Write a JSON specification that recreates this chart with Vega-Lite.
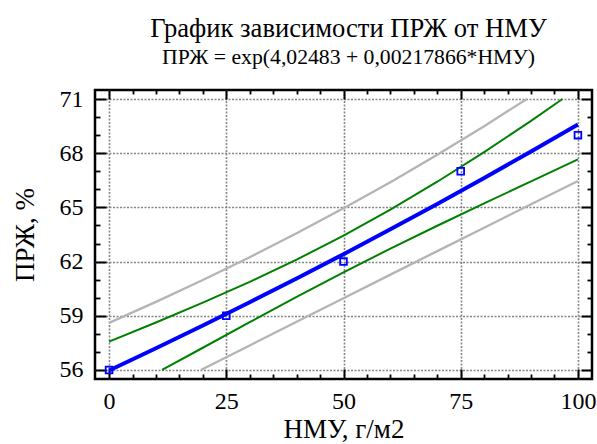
{
  "$schema": "https://vega.github.io/schema/vega-lite/v6.json",
  "width": 497,
  "height": 289,
  "autosize": {"type": "none"},
  "padding": {"left": 95, "top": 90, "right": 5, "bottom": 65},
  "background": "white",
  "title": {
    "text": "График зависимости ПРЖ от НМУ",
    "subtitle": "ПРЖ = exp(4,02483 + 0,00217866*НМУ)",
    "font": "Liberation Serif",
    "fontSize": 26.6,
    "fontWeight": "normal",
    "color": "black",
    "subtitleFont": "Liberation Serif",
    "subtitleFontSize": 21.7,
    "subtitleColor": "black",
    "anchor": "middle",
    "frame": "group",
    "offset": 18.5,
    "subtitlePadding": 4.5,
    "dx": 5
  },
  "config": {
    "view": {"stroke": "black", "strokeWidth": 2.5},
    "axis": {
      "domain": false,
      "labelFont": "Liberation Serif",
      "titleFont": "Liberation Serif",
      "labelColor": "black",
      "titleColor": "black",
      "titleFontWeight": "normal",
      "labelFontSize": 24,
      "titleFontSize": 27,
      "tickColor": "black"
    }
  },
  "datasets": {
    "lines": [
      {"series": "fit", "x": 0, "y": 55.971},
      {"series": "fit", "x": 10, "y": 57.204},
      {"series": "fit", "x": 20, "y": 58.464},
      {"series": "fit", "x": 30, "y": 59.751},
      {"series": "fit", "x": 40, "y": 61.067},
      {"series": "fit", "x": 50, "y": 62.412},
      {"series": "fit", "x": 60, "y": 63.787},
      {"series": "fit", "x": 70, "y": 65.192},
      {"series": "fit", "x": 80, "y": 66.628},
      {"series": "fit", "x": 90, "y": 68.095},
      {"series": "fit", "x": 100, "y": 69.595},
      {"series": "ci_upper", "x": 0, "y": 57.571},
      {"series": "ci_upper", "x": 10, "y": 58.627},
      {"series": "ci_upper", "x": 20, "y": 59.725},
      {"series": "ci_upper", "x": 30, "y": 60.878},
      {"series": "ci_upper", "x": 40, "y": 62.108},
      {"series": "ci_upper", "x": 50, "y": 63.436},
      {"series": "ci_upper", "x": 60, "y": 64.875},
      {"series": "ci_upper", "x": 70, "y": 66.422},
      {"series": "ci_upper", "x": 80, "y": 68.065},
      {"series": "ci_upper", "x": 90, "y": 69.789},
      {"series": "ci_upper", "x": 96.7, "y": 71},
      {"series": "ci_lower", "x": 11.3, "y": 56},
      {"series": "ci_lower", "x": 20, "y": 57.23},
      {"series": "ci_lower", "x": 30, "y": 58.645},
      {"series": "ci_lower", "x": 40, "y": 60.043},
      {"series": "ci_lower", "x": 50, "y": 61.405},
      {"series": "ci_lower", "x": 60, "y": 62.718},
      {"series": "ci_lower", "x": 70, "y": 63.985},
      {"series": "ci_lower", "x": 80, "y": 65.221},
      {"series": "ci_lower", "x": 90, "y": 66.442},
      {"series": "ci_lower", "x": 100, "y": 67.661},
      {"series": "pi_upper", "x": 0, "y": 58.607},
      {"series": "pi_upper", "x": 10, "y": 59.771},
      {"series": "pi_upper", "x": 20, "y": 60.982},
      {"series": "pi_upper", "x": 30, "y": 62.245},
      {"series": "pi_upper", "x": 40, "y": 63.567},
      {"series": "pi_upper", "x": 50, "y": 64.949},
      {"series": "pi_upper", "x": 60, "y": 66.398},
      {"series": "pi_upper", "x": 70, "y": 67.914},
      {"series": "pi_upper", "x": 80, "y": 69.498},
      {"series": "pi_upper", "x": 89.1, "y": 71},
      {"series": "pi_lower", "x": 19.6, "y": 56},
      {"series": "pi_lower", "x": 20, "y": 56.05},
      {"series": "pi_lower", "x": 30, "y": 57.356},
      {"series": "pi_lower", "x": 40, "y": 58.666},
      {"series": "pi_lower", "x": 50, "y": 59.974},
      {"series": "pi_lower", "x": 60, "y": 61.279},
      {"series": "pi_lower", "x": 70, "y": 62.579},
      {"series": "pi_lower", "x": 80, "y": 63.876},
      {"series": "pi_lower", "x": 90, "y": 65.17},
      {"series": "pi_lower", "x": 100, "y": 66.465}
    ],
    "points": [
      {"x": 0, "y": 56},
      {"x": 25, "y": 59},
      {"x": 50, "y": 62},
      {"x": 75, "y": 67},
      {"x": 100, "y": 69}
    ]
  },
  "resolve": {"axis": {"x": "independent", "y": "independent"}},
  "layer": [
    {
      "data": {"name": "lines"},
      "transform": [{"filter": "datum.series === 'pi_upper'"}],
      "mark": {"type": "line", "color": "#b4b4b4", "strokeWidth": 2.3, "clip": true},
      "encoding": {
        "x": {"field": "x", "type": "quantitative",
              "scale": {"domain": [-3, 103], "nice": false, "zero": false},
              "axis": {"orient": "bottom", "values": [0, 25, 50, 75, 100], "ticks": false, "grid": true,
                       "gridColor": "#858585", "gridDash": [2, 1.5], "gridWidth": 1.6,
                       "labelPadding": 10.5, "title": "НМУ, г/м2", "titlePadding": 3}},
        "y": {"field": "y", "type": "quantitative",
              "scale": {"domain": [55.5, 71.5], "nice": false, "zero": false},
              "axis": {"orient": "left", "values": [56, 59, 62, 65, 68, 71], "ticks": false, "grid": true,
                       "gridColor": "#858585", "gridDash": [2, 1.5], "gridWidth": 1.6,
                       "labelPadding": 12, "title": "ПРЖ, %", "titlePadding": 20}}
      }
    },
    {
      "data": {"name": "lines"},
      "transform": [{"filter": "datum.series === 'pi_lower'"}],
      "mark": {"type": "line", "color": "#b4b4b4", "strokeWidth": 2.3, "clip": true},
      "encoding": {
        "x": {"field": "x", "type": "quantitative",
              "scale": {"domain": [-3, 103], "nice": false, "zero": false},
              "axis": {"orient": "bottom", "values": [0, 25, 50, 75, 100], "labels": false, "grid": false,
                       "tickSize": -10, "tickWidth": 2, "title": null}},
        "y": {"field": "y", "type": "quantitative",
              "scale": {"domain": [55.5, 71.5], "nice": false, "zero": false},
              "axis": {"orient": "left", "values": [56, 59, 62, 65, 68, 71], "labels": false, "grid": false,
                       "tickSize": -11, "tickWidth": 2, "title": null}}
      }
    },
    {
      "data": {"name": "lines"},
      "transform": [{"filter": "datum.series === 'ci_upper'"}],
      "mark": {"type": "line", "color": "#008000", "strokeWidth": 2, "clip": true},
      "encoding": {
        "x": {"field": "x", "type": "quantitative",
              "scale": {"domain": [-3, 103], "nice": false, "zero": false},
              "axis": {"orient": "top", "values": [0, 25, 50, 75, 100], "labels": false, "grid": false,
                       "tickSize": -9, "tickWidth": 2, "title": null}},
        "y": {"field": "y", "type": "quantitative",
              "scale": {"domain": [55.5, 71.5], "nice": false, "zero": false},
              "axis": {"orient": "right", "values": [56, 59, 62, 65, 68, 71], "labels": false, "grid": false,
                       "tickSize": -11, "tickWidth": 2, "title": null}}
      }
    },
    {
      "data": {"name": "lines"},
      "transform": [{"filter": "datum.series === 'ci_lower'"}],
      "mark": {"type": "line", "color": "#008000", "strokeWidth": 2, "clip": true},
      "encoding": {
        "x": {"field": "x", "type": "quantitative",
              "scale": {"domain": [-3, 103], "nice": false, "zero": false},
              "axis": {"orient": "bottom", "values": [5, 10, 15, 20, 30, 35, 40, 45, 55, 60, 65, 70, 80, 85, 90, 95],
                       "labels": false, "grid": false, "tickSize": -5, "tickWidth": 1.8, "title": null}},
        "y": {"field": "y", "type": "quantitative",
              "scale": {"domain": [55.5, 71.5], "nice": false, "zero": false},
              "axis": {"orient": "left", "values": [57, 58, 60, 61, 63, 64, 66, 67, 69, 70],
                       "labels": false, "grid": false, "tickSize": -5, "tickWidth": 1.8, "title": null}}
      }
    },
    {
      "data": {"name": "lines"},
      "transform": [{"filter": "datum.series === 'fit'"}],
      "mark": {"type": "line", "color": "#0000ff", "strokeWidth": 4, "clip": true},
      "encoding": {
        "x": {"field": "x", "type": "quantitative",
              "scale": {"domain": [-3, 103], "nice": false, "zero": false},
              "axis": {"orient": "top", "values": [5, 10, 15, 20, 30, 35, 40, 45, 55, 60, 65, 70, 80, 85, 90, 95],
                       "labels": false, "grid": false, "tickSize": -4, "tickWidth": 1.8, "title": null}},
        "y": {"field": "y", "type": "quantitative",
              "scale": {"domain": [55.5, 71.5], "nice": false, "zero": false},
              "axis": {"orient": "right", "values": [57, 58, 60, 61, 63, 64, 66, 67, 69, 70],
                       "labels": false, "grid": false, "tickSize": -5, "tickWidth": 1.8, "title": null}}
      }
    },
    {
      "data": {"name": "points"},
      "mark": {"type": "point", "shape": "square", "filled": false, "color": "#0000ff", "size": 45, "strokeWidth": 1.8, "opacity": 1, "clip": true},
      "encoding": {
        "x": {"field": "x", "type": "quantitative",
              "scale": {"domain": [-3, 103], "nice": false, "zero": false}, "axis": null},
        "y": {"field": "y", "type": "quantitative",
              "scale": {"domain": [55.5, 71.5], "nice": false, "zero": false}, "axis": null}
      }
    }
  ]
}
